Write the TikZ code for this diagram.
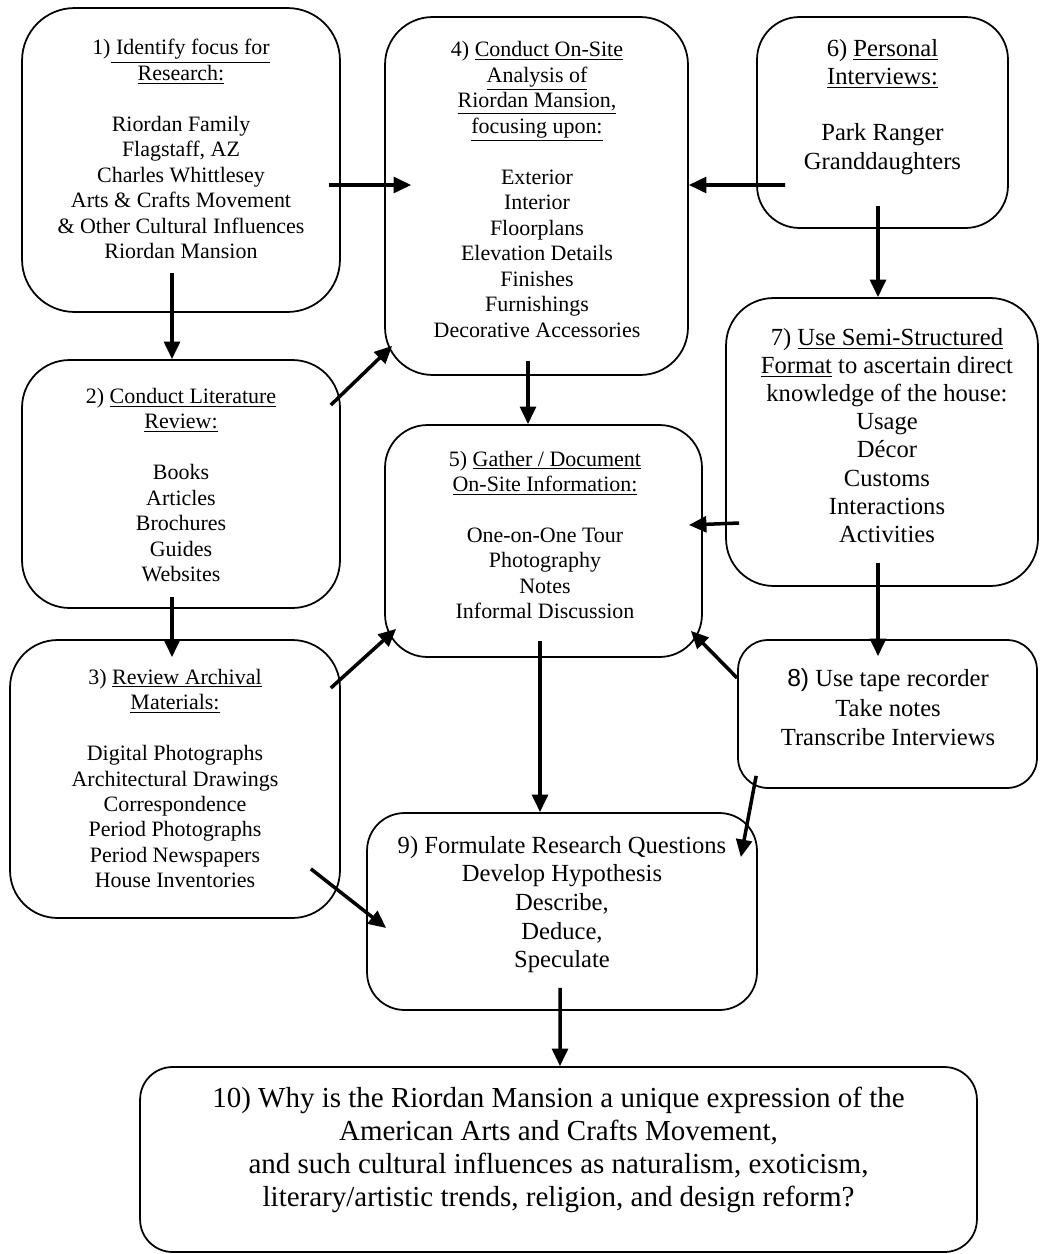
\documentclass[tikz,border=0pt]{standalone}
\usepackage{fontspec}
\setmainfont{Liberation Serif}
\setsansfont{Liberation Sans}
\usetikzlibrary{arrows.meta}

\begin{document}
\begin{tikzpicture}[x=0.02cm, y=-0.02cm,
  box/.style={draw, line width=1pt, rectangle},
  txt/.style={align=center, inner sep=0pt},
  fsmall/.style={font=\fontsize{12.5}{14.5}\selectfont},
  fmid/.style={font=\fontsize{14}{16}\selectfont},
  fbig/.style={font=\fontsize{16.5}{18.7}\selectfont},
  arr/.style={line width=2pt, -{Triangle[length=10pt,width=9pt]}}]
\useasboundingbox (0,0) rectangle (1039,1254);

\begin{scope}[every node/.style={box}]
\node[minimum width=6.36cm, minimum height=6.08cm, rounded corners=1.05cm] (1) at (181,160) {};
\node[minimum width=6.36cm, minimum height=4.96cm, rounded corners=0.95cm] (2) at (181,484) {};
\node[minimum width=6.6cm, minimum height=5.56cm, rounded corners=0.95cm] (3) at (175,779) {};
\node[minimum width=6.06cm, minimum height=7.16cm, rounded corners=0.95cm] (4) at (536.5,196) {};
\node[minimum width=6.34cm, minimum height=4.64cm, rounded corners=0.85cm] (5) at (543.5,541) {};
\node[minimum width=5.02cm, minimum height=4.22cm, rounded corners=0.85cm] (6) at (882.5,122.5) {};
\node[minimum width=6.24cm, minimum height=5.76cm, rounded corners=0.95cm] (7) at (882,442) {};
\node[minimum width=5.98cm, minimum height=2.96cm, rounded corners=0.6cm] (8) at (887.5,714) {};
\node[minimum width=7.8cm, minimum height=3.94cm, rounded corners=0.75cm] (9) at (562,911.5) {};
\node[minimum width=16.74cm, minimum height=3.7cm, rounded corners=0.65cm] (10) at (558.5,1159.5) {};
\end{scope}

\begin{scope}[every node/.style={txt}]
\node[fsmall] (t1) at (181,149) {1)\underline{ Identify focus for}\\ \underline{Research:}\\[14.5pt]
  Riordan Family\\ Flagstaff, AZ\\ Charles Whittlesey\\ Arts \& Crafts Movement\\
  \& Other Cultural Influences\\ Riordan Mansion};
\node[fsmall] (t2) at (181,485) {2) \underline{Conduct Literature}\\ \underline{Review:}\\[14.5pt]
  Books\\ Articles\\ Brochures\\ Guides\\ Websites};
\node[fsmall] (t3) at (175,778.5) {3) \underline{Review Archival}\\ \underline{Materials:}\\[14.5pt]
  Digital Photographs\\ Architectural Drawings\\ Correspondence\\ Period Photographs\\
  Period Newspapers\\ House Inventories};
\node[fsmall] (t4) at (537,189.5) {4) \underline{Conduct On-Site}\\ \underline{Analysis of}\\
  \underline{Riordan Mansion,}\\ \underline{focusing upon:}\\[14.5pt]
  Exterior\\ Interior\\ Floorplans\\ Elevation Details\\ Finishes\\ Furnishings\\
  Decorative Accessories};
\node[fsmall] (t5) at (545,535) {5) \underline{Gather / Document}\\ \underline{On-Site Information:}\\[14.5pt]
  One-on-One Tour\\ Photography\\ Notes\\ Informal Discussion};
\node[fmid] (t6) at (882.5,107) {6) \underline{Personal}\\ \underline{Interviews:}\\[16pt]
  Park Ranger\\ Granddaughters};
\node[fmid] (t7) at (887,435.5) {7) \underline{Use Semi-Structured}\\ \underline{Format} to ascertain direct\\
  knowledge of the house:\\ Usage\\ Décor\\ Customs\\ Interactions\\ Activities};
\node[font=\fontsize{14}{16.7}\selectfont] (t8) at (888,707.5) {{\sffamily 8)} Use tape recorder\\
  Take notes\\ Transcribe Interviews};
\node[font=\fontsize{14}{16.3}\selectfont] (t9) at (562,904.5) {9) Formulate Research Questions\\
  Develop Hypothesis\\ Describe,\\ Deduce,\\ Speculate};
\node[fbig] (t10) at (558.5,1150) {10) Why is the Riordan Mansion a unique expression of the\\
  American Arts and Crafts Movement,\\ and such cultural influences as naturalism, exoticism,\\
  literary/artistic trends, religion, and design reform?};
\end{scope}

\draw[arr] ([shift={(-9,-40)}]1.south) -- ([shift={(-9,0)}]2.north);
\draw[arr] ([shift={(-12,25)}]1.east) -- ([shift={(27,-11)}]4.west);
\draw[arr] ([shift={(29,62.5)}]6.west) -- ([shift={(0,-11)}]4.east);
\draw[arr] ([shift={(-10,-79)}]2.east) -- ([shift={(8,-30)}]4.south west);
\draw[arr] ([shift={(-8.5,-15)}]4.south) -- ([shift={(-15.5,0)}]5.north);
\draw[arr] ([shift={(-4.5,-23)}]6.south) -- ([shift={(-4,0)}]7.north);
\draw[arr] ([shift={(-9,-12)}]2.south) -- ([shift={(-3,18)}]3.north);
\draw[arr] ([shift={(-10,-91)}]3.east) -- ([shift={(12,-29)}]5.south west);
\draw[arr] ([shift={(14,81)}]7.west) -- ([shift={(-14,-16)}]5.east);
\draw[arr] ([shift={(0,-36)}]8.west) -- ([shift={(-12,-27)}]5.south east);
\draw[arr] ([shift={(-4,-24)}]7.south) -- ([shift={(-9.5,17)}]8.north);
\draw[arr] ([shift={(-3.5,-17)}]5.south) -- ([shift={(-22,0)}]9.north);
\draw[arr] ([shift={(19,-13)}]8.south west) -- ([shift={(-17,45)}]9.north east);
\draw[arr] ([shift={(-30,-50)}]3.south east) -- ([shift={(20,16.5)}]9.west);
\draw[arr] ([shift={(-2,-23)}]9.south) -- ([shift={(1.5,0)}]10.north);

\end{tikzpicture}
\end{document}
